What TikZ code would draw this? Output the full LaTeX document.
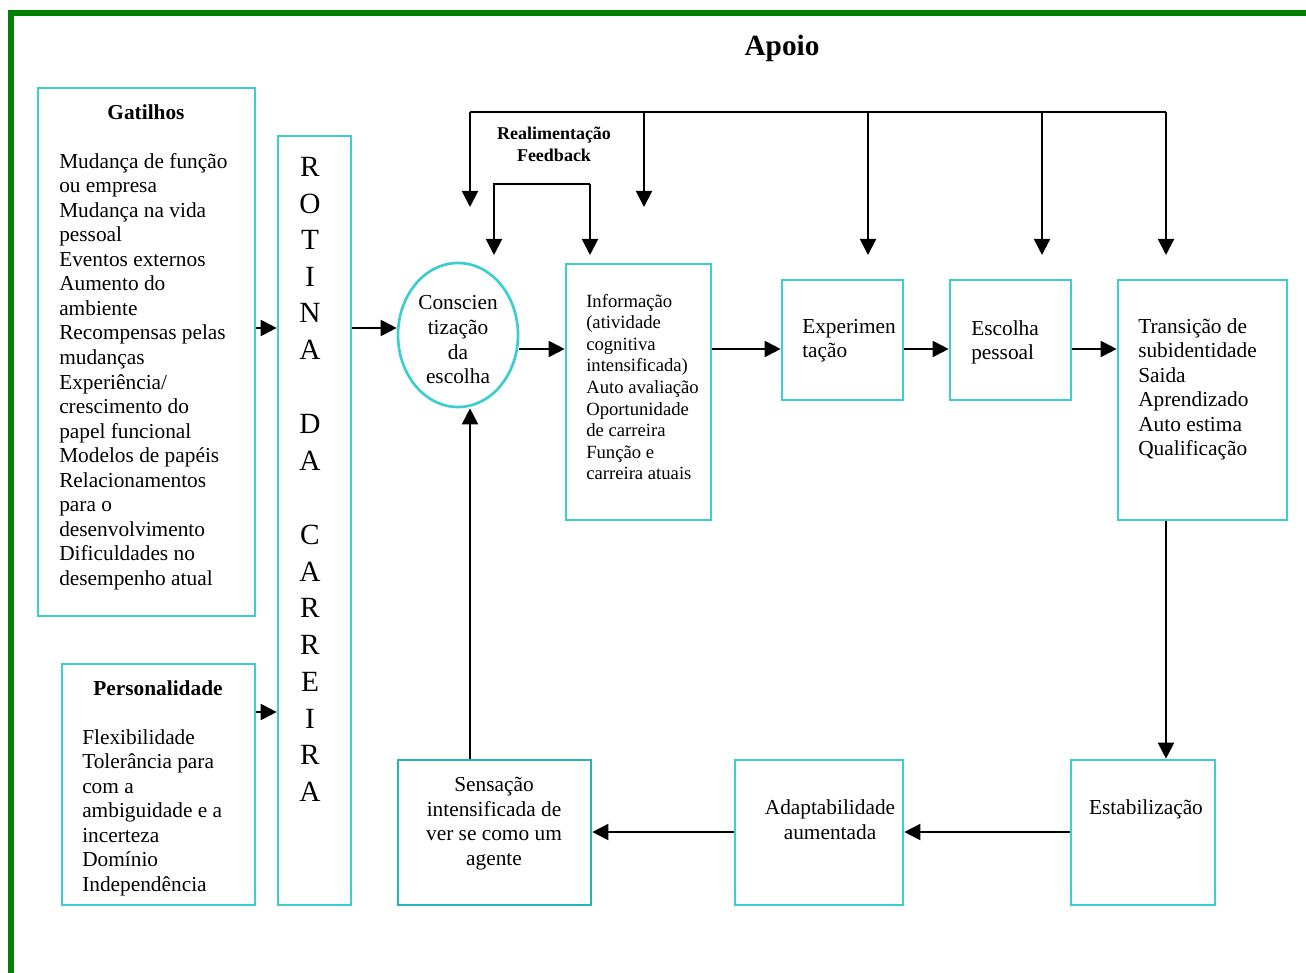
\documentclass[tikz,border=0pt]{standalone}
\usepackage{fontspec}
\setmainfont{Liberation Serif}
\usetikzlibrary{arrows.meta,shapes.geometric,fit}
\definecolor{boxcyan}{RGB}{60,206,206}
\definecolor{boxteal}{RGB}{40,178,178}
\definecolor{framegreen}{RGB}{0,128,0}

\begin{document}
\begin{tikzpicture}[x=0.75pt,y=-0.75pt,
  box/.style={draw=boxcyan, line width=2pt, inner sep=0pt},
  link/.style={line width=1.5pt},
  conn/.style={line width=1.5pt, -{Triangle[length=12pt,width=12pt]}},
  body/.style={inner sep=0pt, align=left, font=\fontsize{16}{18.4}\selectfont},
  centred/.style={inner sep=0pt, align=center, font=\fontsize{16}{18.5}\selectfont},
  small/.style={inner sep=0pt, align=left, font=\fontsize{14}{16.2}\selectfont},
  heading/.style={inner sep=0pt, align=center, font=\fontsize{16}{18.4}\selectfont\bfseries},
  letter/.style={inner sep=0pt, font=\fontsize{22}{26}\selectfont},
]
\useasboundingbox (0,0) rectangle (1306,973);

% outer frame (left and top edges)
\draw[framegreen, line width=4.5pt] (11,973) -- (11,13) -- (1306,13);

% title
\node[inner sep=0pt, font=\fontsize{22}{26}\selectfont\bfseries] (apoio) at (782,48) {Apoio};

% boxes
\node[box, fit={(38,88) (255,616)}] (gat) {};
\node[box, fit={(62,664) (255,905)}] (pers) {};
\node[box, fit={(278,136) (351,905)}] (rot) {};
\node[box, ellipse, minimum width=90pt, minimum height=108pt] (consc) at (458,335) {};
\node[box, fit={(566,264) (711,520)}] (info) {};
\node[box, fit={(782,280) (903,400)}] (exper) {};
\node[box, fit={(950,280) (1071,400)}] (escol) {};
\node[box, fit={(1118,280) (1287,520)}] (trans) {};
\node[box, fit={(1071,760) (1215,905)}] (estab) {};
\node[box, fit={(735,760) (903,905)}] (adapt) {};
\node[box, draw=boxteal, fit={(398,760) (591,905)}] (sens) {};

% texts
\node[heading] (gatT) at (146,112) {Gatilhos};
\node[body, anchor=west] (gatB) at (59,371.5) {Mudança de função\\ou empresa\\Mudança na vida\\pessoal\\Eventos externos\\Aumento do\\ambiente\\Recompensas pelas\\mudanças\\Experiência/\\crescimento do\\papel funcional\\Modelos de papéis\\Relacionamentos\\para o\\desenvolvimento\\Dificuldades no\\desempenho atual};

\node[heading] (persT) at (158,688) {Personalidade};
\node[body, anchor=west] (persB) at (82,812.5) {Flexibilidade\\Tolerância para\\com a\\ambiguidade e a\\incerteza\\Domínio\\Independência};

\foreach \ch/\yy [count=\i] in {R/167,O/204,T/240,I/277,N/313,A/350,D/424,A/461,C/535,A/572,R/608,R/645,E/682,I/719,R/755,A/792}
  \node[letter] (rotL\i) at (310,\yy) {\ch};

\node[centred] (conscT) at (458,340) {Conscien\\tização\\da\\escolha};
\node[small, anchor=west] (infoT) at (586,387) {Informação\\(atividade\\cognitiva\\intensificada)\\Auto avaliação\\Oportunidade\\de carreira\\Função e\\carreira atuais};
\node[body, anchor=west] (experT) at (802,340.5) {Experimen\\tação};
\node[body, anchor=west] (escolT) at (971,342.5) {Escolha\\pessoal};
\node[body, anchor=west] (transT) at (1138,389.5) {Transição de\\subidentidade\\Saida\\Aprendizado\\Auto estima\\Qualificação};
\node[centred] (estabT) at (1146,809) {Estabilização};
\node[centred] (adaptT) at (830,820) {Adaptabilidade\\aumentada};
\node[centred] (sensT) at (494,823.5) {Sensação\\intensificada de\\ver se como um\\agente};
\node[inner sep=0pt, align=center, font=\fontsize{13.5}{16.2}\selectfont\bfseries] (feedT) at (554,144.5) {Realimentação\\Feedback};

% helper heights
\coordinate (h328) at (0,328);
\coordinate (h349) at (0,349);
\coordinate (h712) at (0,712);
\coordinate (h832) at (0,832);

% main flow
\draw[conn] (gat.east |- h328) -- (rot.west |- h328);
\draw[conn] (pers.east |- h712) -- (rot.west |- h712);
\draw[conn] (rot.east |- h328) -- (consc.west |- h328);
\draw[conn] (consc.east |- h349) -- (info.west |- h349);
\draw[conn] (info.east |- h349) -- (exper.west |- h349);
\draw[conn] (exper.east |- h349) -- (escol.west |- h349);
\draw[conn] (escol.east |- h349) -- (trans.west |- h349);
\coordinate (tx) at (1166,0);
\draw[conn] (trans.south -| tx) -- (estab.north -| tx);
\draw[conn] (estab.west |- h832) -- (adapt.east |- h832);
\draw[conn] (adapt.west |- h832) -- (sens.east |- h832);
\coordinate (sx) at (470,0);
\draw[conn] (sens.north -| sx) -- (consc.south -| sx);

% feedback loops
\coordinate (fbA) at (470,112);
\coordinate (fbB) at (644,112);
\coordinate (fbC) at (868,112);
\coordinate (fbD) at (1042,112);
\coordinate (fbE) at (1166,112);
\coordinate (tipA) at (470,207);
\coordinate (tipB) at (644,207);
\coordinate (tipC) at (868,255);
\coordinate (tipD) at (1042,255);
\coordinate (tipE) at (1166,255);
\draw[link] (fbA) -- (fbE);
\draw[conn] (fbA) -- (tipA);
\draw[conn] (fbB) -- (tipB);
\draw[conn] (fbC) -- (tipC);
\draw[conn] (fbD) -- (tipD);
\draw[conn] (fbE) -- (tipE);

\coordinate (inA) at (494,184);
\coordinate (inB) at (590,184);
\coordinate (inTipA) at (494,255);
\coordinate (inTipB) at (590,255);
\draw[conn] (inB) -- (inA) -- (inTipA);
\draw[conn] (inB) -- (inTipB);
\end{tikzpicture}
\end{document}
